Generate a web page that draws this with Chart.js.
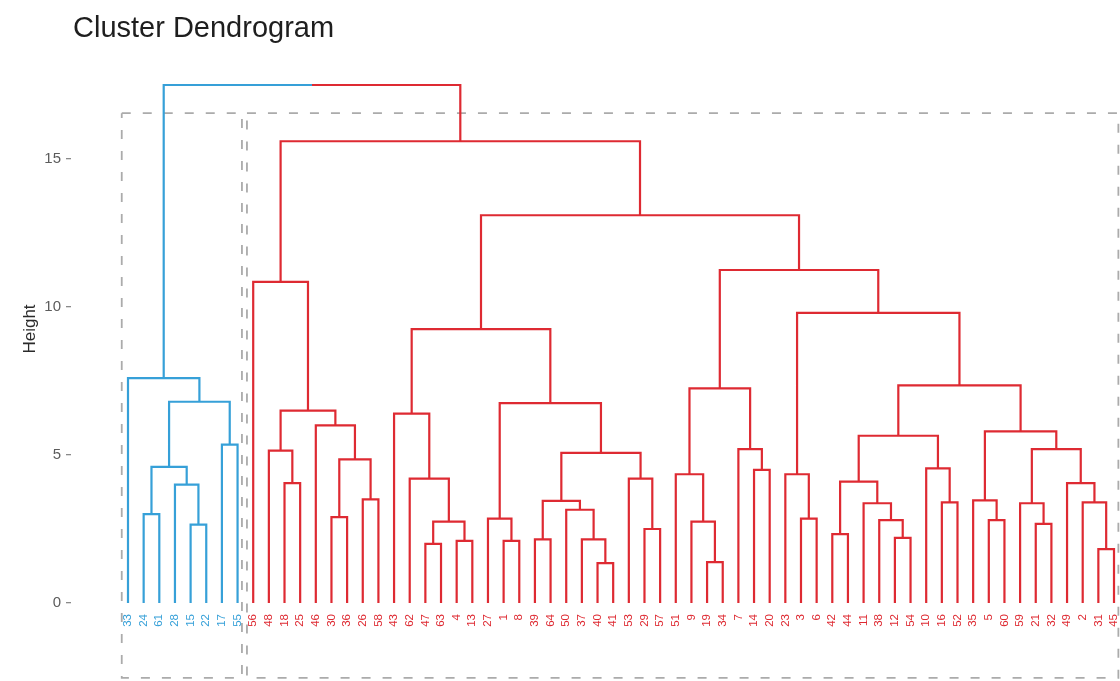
<!DOCTYPE html>
<html>
<head>
<meta charset="utf-8">
<title>Cluster Dendrogram</title>
<script src="https://cdn.jsdelivr.net/npm/chart.js@4.4.1/dist/chart.umd.min.js"></script>
<style>
  html, body { margin: 0; padding: 0; background: #ffffff; }
  canvas { display: block; }
</style>
</head>
<body>
<canvas id="dendro" width="1120" height="681"></canvas>
<script>
// ---- data -------------------------------------------------------------
// Leaves in plotting order (observation numbers).
const leafOrder = [
  '33','24','61','28','15','22','17','55',
  '56','48','18','25','46','30','36','26','58',
  '43','62','47','63','4','13',
  '27','1','8','39','64','50','37','40','41','53','29','57',
  '51','9','19','34','7','14','20',
  '23','3','6',
  '42','44','11','38','12','54','10','16','52',
  '35','5','60','59','21','32','49','2','31','45'
];

// Agglomeration steps, hclust style: -k is observation k, j is step j (1-based).
const merges = [
  [-24, -61], [-15, -22], [-28, 2], [1, 3], [-17, -55], [4, 5], [-33, 6],
  [-18, -25], [-48, 8], [-30, -36], [-26, -58], [10, 11], [-46, 12], [9, 13], [-56, 14],
  [-47, -63], [-4, -13], [16, 17], [-62, 18], [-43, 19],
  [-1, -8], [-27, 21], [-39, -64], [-40, -41], [-37, 24], [-50, 25], [23, 26],
  [-29, -57], [-53, 28], [27, 29], [22, 30], [20, 31],
  [-19, -34], [-9, 33], [-51, 34], [-14, -20], [-7, 36], [35, 37],
  [-3, -6], [-23, 39], [-42, -44], [-12, -54], [-38, 42], [-11, 43], [41, 44],
  [-16, -52], [-10, 46], [45, 47], [-5, -60], [-35, 49], [-21, -32], [-59, 51],
  [-31, -45], [-2, 53], [-49, 54], [52, 55], [50, 56], [48, 57], [40, 58],
  [38, 59], [32, 60], [15, 61], [7, 62]
];

// Height of each agglomeration step.
const mergeHeights = [
  3.0, 2.65, 4.0, 4.6, 5.35, 6.8, 7.6,
  4.05, 5.15, 2.9, 3.5, 4.85, 6.0, 6.5, 10.85,
  2.0, 2.1, 2.75, 4.2, 6.4,
  2.1, 2.85, 2.15, 1.35, 2.15, 3.15, 3.45,
  2.5, 4.2, 5.07, 6.75, 9.25,
  1.38, 2.75, 4.35, 4.5, 5.2, 7.25,
  2.85, 4.35, 2.33, 2.2, 2.8, 3.37, 4.1,
  3.4, 4.55, 5.65, 2.8, 3.47, 2.67, 3.37,
  1.82, 3.4, 4.05, 5.2, 5.8, 7.35, 9.8,
  11.25, 13.1, 15.6, 17.5
];

const clusterCount = 2;
const heightTicks = [0, 5, 10, 15];

// ---- style ------------------------------------------------------------
const FONT = '"Liberation Sans", Arial, Helvetica, sans-serif';
const groupColors = ['#36A0D8', '#DE2A32'];
const RECT_COLOR = '#ABABAB';
const RECT_PAD_LEFT = 0.4;
const RECT_PAD_RIGHT = 0.28;
const RECT_BOTTOM = -2.53;
const X_MIN = -3.642, X_MAX = 63.383;
const Y_MAX = 18.514;

// ---- tree geometry from the merge table --------------------------------
const nodes = [];
function nodeRef(ref) {
  if (ref < 0) {
    const pos = leafOrder.indexOf(String(-ref));
    return { x: pos, h: 0, leaves: [pos] };
  }
  return nodes[ref - 1];
}
merges.forEach(([a, b], j) => {
  const L = nodeRef(a), R = nodeRef(b);
  nodes.push({ x: (L.x + R.x) / 2, h: mergeHeights[j], leaves: L.leaves.concat(R.leaves), left: L, right: R });
});

// Cut the tree into clusterCount groups.
let parts = [nodes[nodes.length - 1]];
while (parts.length < clusterCount) {
  let best = 0;
  parts.forEach((n, i) => { if (n.h > parts[best].h) best = i; });
  const n = parts[best];
  parts.splice(best, 1, n.left, n.right);
}
parts.sort((p, q) => Math.min(...p.leaves) - Math.min(...q.leaves));
const leafGroup = new Array(leafOrder.length).fill(0);
parts.forEach((p, gi) => p.leaves.forEach(l => { leafGroup[l] = gi; }));
const leafColor = leafGroup.map(g => groupColors[g]);

const sortedHeights = mergeHeights.slice().sort((a, b) => b - a);
const cutHeight = (sortedHeights[clusterCount - 2] + sortedHeights[clusterCount - 1]) / 2;

function groupOf(n) {
  const g = leafGroup[n.leaves[0]];
  return n.leaves.every(l => leafGroup[l] === g) ? g : null;
}

const lineStyle = { borderWidth: 2.2, pointRadius: 0, tension: 0, fill: false,
                    borderJoinStyle: 'miter', borderCapStyle: 'butt' };
const datasets = [];

// Links: left leg, crossbar, right leg.
nodes.forEach(n => {
  const L = n.left, R = n.right;
  const gl = groupOf(L), gr = groupOf(R);
  if (gl !== null && gl === gr) {
    datasets.push(Object.assign({
      data: [{ x: L.x, y: L.h }, { x: L.x, y: n.h }, { x: R.x, y: n.h }, { x: R.x, y: R.h }],
      borderColor: groupColors[gl]
    }, lineStyle));
  } else {
    const xm = (L.x + R.x) / 2;
    datasets.push(Object.assign({
      data: [{ x: L.x, y: L.h }, { x: L.x, y: n.h }, { x: xm, y: n.h }],
      borderColor: gl === null ? '#555555' : groupColors[gl]
    }, lineStyle));
    datasets.push(Object.assign({
      data: [{ x: xm, y: n.h }, { x: R.x, y: n.h }, { x: R.x, y: R.h }],
      borderColor: gr === null ? '#555555' : groupColors[gr]
    }, lineStyle));
  }
});

// Dashed boxes around each cluster.
parts.forEach(p => {
  const x0 = Math.min(...p.leaves) - RECT_PAD_LEFT;
  const x1 = Math.max(...p.leaves) + RECT_PAD_RIGHT;
  datasets.push({
    data: [{ x: x0, y: cutHeight }, { x: x1, y: cutHeight }, { x: x1, y: RECT_BOTTOM },
           { x: x0, y: RECT_BOTTOM }, { x: x0, y: cutHeight }],
    borderColor: RECT_COLOR, borderWidth: 1.8, borderDash: [9, 12],
    pointRadius: 0, tension: 0, fill: false, clip: false
  });
});

// ---- plot title --------------------------------------------------------
const plotTitle = {
  id: 'plotTitle',
  afterDraw(chart) {
    const ctx = chart.ctx;
    ctx.save();
    ctx.font = '29px ' + FONT;
    ctx.fillStyle = '#1e1e1e';
    ctx.textAlign = 'left';
    ctx.textBaseline = 'alphabetic';
    ctx.fillText('Cluster Dendrogram', 73, 37);
    ctx.restore();
  }
};

new Chart(document.getElementById('dendro'), {
  type: 'line',
  data: { datasets },
  plugins: [plotTitle],
  options: {
    responsive: false,
    animation: false,
    events: [],
    layout: { padding: { top: 55, left: 0, right: 0, bottom: 0 } },
    plugins: { legend: { display: false }, tooltip: { enabled: false }, title: { display: false } },
    scales: {
      x: {
        type: 'linear', min: X_MIN, max: X_MAX, position: 'bottom',
        grid: { display: false }, border: { display: false },
        afterBuildTicks: s => { s.ticks = leafOrder.map((_, i) => ({ value: i })); },
        afterFit: s => { s.height = 78; s.paddingLeft = 0; s.paddingRight = 0; },
        ticks: {
          autoSkip: false, minRotation: 90, maxRotation: 90, padding: 3,
          font: { family: FONT, size: 11.5 },
          color: c => leafColor[c.index],
          callback: v => leafOrder[v]
        }
      },
      y: {
        type: 'linear', min: 0, max: Y_MAX, position: 'left',
        border: { display: false },
        grid: { drawOnChartArea: false, drawTicks: true, tickLength: 5, color: '#8a8a8a', lineWidth: 1.3 },
        afterBuildTicks: s => { s.ticks = heightTicks.map(v => ({ value: v })); },
        afterFit: s => { s.width = 71; s.paddingTop = 0; s.paddingBottom = 0; },
        ticks: { padding: 5, color: '#5c5c5c', font: { family: FONT, size: 15 } },
        title: { display: true, text: 'Height', color: '#2a2a2a',
                 font: { family: FONT, size: 17 }, padding: { top: 20, bottom: 0 } }
      }
    }
  }
});
</script>
</body>
</html>
